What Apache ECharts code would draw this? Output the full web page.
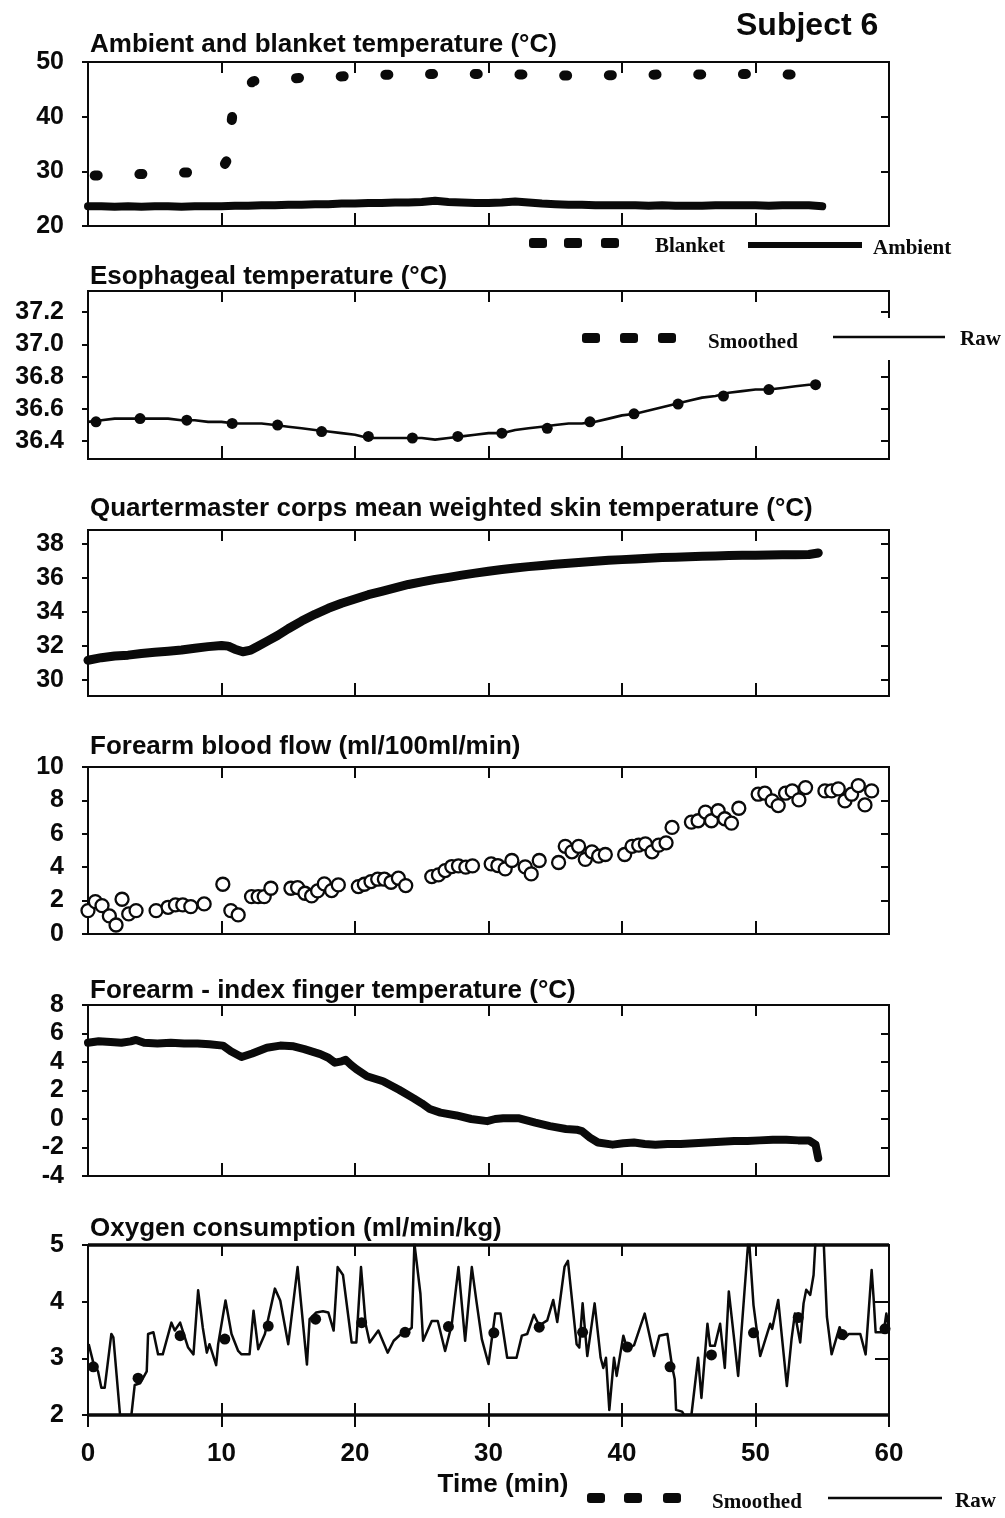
<!DOCTYPE html>
<html>
<head>
<meta charset="utf-8">
<script src="https://cdn.jsdelivr.net/npm/echarts@6/dist/echarts.min.js"></script>
<style>
  html, body { margin: 0; padding: 0; background: #fff; }
  #chart { width: 1005px; height: 1518px; }
</style>
</head>
<body>
<div id="chart"></div>
<script>
// ---- Time axis (minutes) ----
const minuteTicks = [10, 20, 30, 40, 50];
const minuteLabels = [0, 10, 20, 30, 40, 50, 60];

// ---- Panel 1: ambient and blanket temperature (°C) ----
const ambientTemp = [
  [0,23.6],[1,23.6],[2,23.5],[3,23.6],[4,23.5],[5,23.6],[6,23.6],[7,23.5],[8,23.6],[9,23.6],
  [10,23.6],[11,23.7],[12,23.7],[13,23.8],[14,23.8],[15,23.9],[16,23.9],[17,24.0],[18,24.0],[19,24.1],
  [20,24.1],[21,24.2],[22,24.2],[23,24.3],[24,24.3],[25,24.4],[26,24.6],[27,24.4],[28,24.3],[29,24.2],
  [30,24.2],[31,24.3],[32,24.5],[33,24.3],[34,24.1],[35,24.0],[36,23.9],[37,23.9],[38,23.8],[39,23.8],
  [40,23.8],[41,23.8],[42,23.7],[43,23.8],[44,23.7],[45,23.7],[46,23.7],[47,23.8],[48,23.8],[49,23.8],
  [50,23.8],[51,23.7],[52,23.8],[53,23.8],[54,23.8],[55,23.6]
];
const blanketTemp = [
  [0,29.2],[3.9,29.5],[7.5,29.8],[10,30.2],[10.4,32],[10.8,40],[11.5,45],[12.4,46.5],
  [15.9,47.1],[19.3,47.4],[22.7,47.7],[26.1,47.8],[29.5,47.8],[32.8,47.7],[36.2,47.5],
  [39.5,47.6],[42.9,47.7],[46.2,47.7],[49.5,47.8],[52.9,47.7],[55,47.7]
];
const panel1Ticks = [20, 30, 40, 50];

// ---- Panel 2: esophageal temperature (°C) ----
const esoRaw = [
  [0,36.52],[1,36.53],[2,36.54],[3,36.54],[4,36.54],[5,36.54],[6,36.54],[7,36.53],[8,36.53],[9,36.52],
  [10,36.52],[11,36.51],[12,36.51],[13,36.51],[14,36.50],[15,36.49],[16,36.48],[17,36.47],[18,36.46],[19,36.45],
  [20,36.44],[21,36.42],[22,36.42],[23,36.42],[24,36.42],[25,36.42],[26,36.41],[27,36.42],[28,36.43],[29,36.44],
  [30,36.45],[31,36.45],[32,36.47],[33,36.48],[34,36.49],[35,36.50],[36,36.51],[37,36.51],[38,36.52],[39,36.54],
  [40,36.56],[41,36.57],[42,36.59],[43,36.61],[44,36.63],[45,36.65],[46,36.67],[47,36.68],[48,36.70],[49,36.71],
  [50,36.72],[51,36.72],[52,36.73],[53,36.74],[54,36.75],[54.6,36.75]
];
const esoSmoothed = [
  [0.6,36.52],[3.9,36.54],[7.4,36.53],[10.8,36.51],[14.2,36.50],[17.5,36.46],[21.0,36.43],[24.3,36.42],
  [27.7,36.43],[31.0,36.45],[34.4,36.48],[37.6,36.52],[40.9,36.57],[44.2,36.63],[47.6,36.68],[51.0,36.72],[54.5,36.75]
];
const panel2Ticks = [36.4, 36.6, 36.8, 37.0, 37.2];

// ---- Panel 3: mean weighted skin temperature (°C) ----
const skinTemp = [
  [0,31.15],[1,31.3],[2,31.4],[3,31.45],[4,31.55],[5,31.62],[6,31.68],[7,31.75],[8,31.85],[9,31.95],
  [10,32.02],[10.5,31.98],[11,31.8],[11.6,31.65],[12.2,31.75],[12.8,32.0],[13.5,32.3],[14.2,32.6],[15,33.0],
  [16,33.45],[17,33.85],[18,34.2],[19,34.5],[20,34.75],[21,35.0],[22,35.2],[23,35.4],[24,35.6],[25,35.75],
  [26,35.9],[27,36.02],[28,36.15],[29,36.27],[30,36.38],[31,36.48],[32,36.57],[33,36.65],[34,36.72],[35,36.79],
  [36,36.85],[37,36.91],[38,36.96],[39,37.02],[40,37.06],[41,37.1],[42,37.14],[43,37.18],[44,37.2],[45,37.23],
  [46,37.26],[47,37.28],[48,37.3],[49,37.31],[50,37.32],[51,37.33],[52,37.34],[53,37.35],[54,37.36],[54.7,37.45]
];
const panel3Ticks = [30, 32, 34, 36, 38];

// ---- Panel 4: forearm blood flow (ml/100ml/min) ----
const bloodFlow = [
  [0,1.4],[0.55,1.94],[1.05,1.7],[1.6,1.08],[2.1,0.54],[2.55,2.08],[3.05,1.2],[3.6,1.4],
  [5.1,1.4],[6.0,1.6],[6.55,1.74],[7.1,1.74],[7.7,1.64],[8.7,1.8],
  [10.1,2.98],[10.7,1.4],[11.25,1.14],[12.25,2.24],[12.75,2.24],[13.2,2.24],[13.7,2.74],
  [15.2,2.74],[15.7,2.78],[16.25,2.44],[16.75,2.28],[17.2,2.58],[17.7,3.0],[18.25,2.6],[18.75,2.94],
  [20.25,2.84],[20.7,2.98],[21.2,3.14],[21.7,3.28],[22.2,3.28],[22.7,3.1],[23.25,3.34],[23.8,2.9],
  [25.75,3.44],[26.25,3.54],[26.75,3.8],[27.25,4.04],[27.75,4.08],[28.3,4.0],[28.8,4.08],
  [30.2,4.2],[30.7,4.1],[31.25,3.9],[31.75,4.4],[32.75,4.02],[33.2,3.6],[33.8,4.4],
  [35.25,4.28],[35.75,5.25],[36.25,4.92],[36.75,5.25],[37.25,4.47],[37.75,4.92],[38.25,4.66],[38.75,4.76],
  [40.2,4.76],[40.75,5.25],[41.25,5.32],[41.75,5.4],[42.25,4.92],[42.75,5.32],[43.3,5.46],[43.75,6.38],
  [45.2,6.7],[45.7,6.78],[46.25,7.3],[46.7,6.78],[47.2,7.38],[47.7,6.9],[48.2,6.64],[48.75,7.53],
  [50.2,8.37],[50.7,8.43],[51.25,7.97],[51.7,7.69],[52.25,8.43],[52.75,8.57],[53.25,8.03],[53.75,8.77],
  [55.2,8.57],[55.7,8.57],[56.2,8.69],[56.7,7.97],[57.2,8.37],[57.7,8.89],[58.2,7.73],[58.7,8.57]
];
const panel4Ticks = [0, 2, 4, 6, 8, 10];

// ---- Panel 5: forearm - index finger temperature (°C) ----
const fingerGradient = [
  [0,5.35],[0.8,5.45],[1.7,5.4],[2.5,5.35],[3.2,5.45],[3.6,5.55],[4.2,5.35],[5.2,5.3],[6.2,5.35],[7.2,5.3],
  [8.2,5.3],[9.1,5.25],[10.1,5.15],[10.7,4.75],[11.5,4.35],[12.3,4.6],[13.4,5.0],[14.4,5.15],[15.4,5.1],
  [16.2,4.9],[17.4,4.55],[18.0,4.3],[18.5,3.95],[19.0,4.05],[19.3,4.15],[19.7,3.8],[20.1,3.5],[20.9,3.0],
  [22.1,2.65],[23.3,2.05],[24.4,1.45],[25.0,1.1],[25.6,0.7],[26.4,0.45],[27.6,0.25],[28.7,0.0],[29.9,-0.15],
  [30.5,0.0],[31.1,0.05],[32.3,0.05],[33.5,-0.25],[34.6,-0.5],[35.8,-0.7],[36.6,-0.75],[37.0,-0.85],
  [37.6,-1.3],[38.2,-1.65],[39.3,-1.8],[40.1,-1.7],[40.9,-1.65],[41.7,-1.75],[42.5,-1.8],[43.4,-1.75],
  [44.4,-1.75],[45.4,-1.7],[46.4,-1.65],[47.4,-1.6],[48.4,-1.55],[49.4,-1.55],[50.3,-1.5],[51.3,-1.45],
  [52.3,-1.45],[53.2,-1.5],[54.0,-1.5],[54.5,-1.8],[54.7,-2.75]
];
const panel5Ticks = [-4, -2, 0, 2, 4, 6, 8];

// ---- Panel 6: oxygen consumption (ml/min/kg) ----
const oxygenRaw = [
  [0.05,3.25],[0.4,2.92],[0.75,2.77],[1.0,2.48],[1.25,2.48],[1.75,3.43],[1.9,3.37],[2.4,2.0],[3.25,2.0],
  [3.5,2.53],[3.9,2.56],[4.4,2.77],[4.5,3.43],[4.9,3.46],[5.25,3.07],[5.6,3.07],[6.25,3.63],[6.5,3.49],
  [6.9,3.63],[7.5,3.19],[7.9,3.07],[8.25,4.2],[8.6,3.54],[8.9,3.1],[9.1,3.25],[9.6,2.88],[9.75,3.25],
  [10.3,4.02],[10.75,3.43],[11.25,3.13],[11.5,3.07],[12.1,3.07],[12.4,3.84],[12.75,3.16],[13.25,3.43],
  [14.0,4.23],[14.4,4.02],[15.0,3.25],[15.7,4.61],[16.4,2.89],[16.6,3.69],[17.1,3.81],[17.6,3.83],
  [18.0,3.81],[18.4,3.49],[18.7,4.61],[19.1,4.47],[19.75,3.28],[20.1,3.28],[20.45,4.61],[20.8,3.6],
  [21.1,3.28],[21.75,3.49],[22.45,3.1],[22.9,3.31],[23.45,3.43],[24.0,3.49],[24.25,3.54],[24.45,5.03],
  [24.9,4.14],[25.1,3.31],[25.75,3.66],[26.2,3.66],[26.75,3.13],[27.25,3.6],[27.75,4.61],[28.25,3.31],
  [28.75,4.61],[29.1,4.0],[29.5,3.34],[30.0,2.9],[30.5,3.79],[30.9,3.79],[31.4,3.01],[32.1,3.01],
  [32.5,3.4],[32.9,3.43],[33.4,3.77],[33.8,3.58],[34.4,3.67],[34.85,4.03],[35.15,3.64],[35.7,4.62],
  [35.95,4.72],[36.6,3.25],[36.8,3.19],[37.05,3.97],[37.4,3.04],[37.95,3.97],[38.4,3.01],[38.6,2.83],
  [38.8,3.01],[39.05,2.09],[39.4,3.01],[39.6,2.69],[40.1,3.4],[40.4,3.16],[40.9,3.23],[41.7,3.79],
  [42.4,3.04],[42.8,3.4],[43.4,3.43],[43.75,2.86],[43.95,2.63],[44.05,2.09],[44.5,2.06],[44.65,2.0],
  [45.2,2.0],[45.7,3.01],[45.95,2.3],[46.4,3.61],[46.6,3.22],[46.95,3.22],[47.35,3.61],[47.7,2.83],
  [48.0,4.18],[48.4,3.34],[48.7,2.69],[49.4,4.89],[49.5,5.15],[49.85,3.94],[50.35,3.04],[51.1,3.61],
  [51.25,3.52],[51.7,4.03],[52.35,2.51],[52.7,3.34],[52.95,3.79],[53.35,3.28],[53.6,3.97],[53.8,4.21],
  [54.1,4.12],[54.35,4.47],[54.5,5.1],[55.1,5.1],[55.35,3.73],[55.7,3.07],[56.3,3.55],[56.6,3.34],
  [57.0,3.43],[57.85,3.43],[58.25,3.07],[58.7,4.56],[58.85,4.05],[59.0,3.46],[59.6,3.46],[59.8,3.79],[60,3.52]
];
const oxygenSmoothed = [
  [0.4,2.85],[3.75,2.65],[6.9,3.4],[10.25,3.34],[13.5,3.57],[17.05,3.69],[20.5,3.63],[23.75,3.46],
  [27.0,3.56],[30.4,3.45],[33.8,3.55],[37.05,3.46],[40.4,3.2],[43.6,2.85],[46.7,3.06],[49.85,3.45],
  [53.2,3.72],[56.5,3.42],[59.7,3.52]
];
const panel6Ticks = [2, 3, 4, 5];
const panel6Frame = [2, 5];

// ---- Text ----
const subjectTitle = 'Subject 6';
const panelTitles = [
  'Ambient and blanket temperature (°C)',
  'Esophageal temperature (°C)',
  'Quartermaster corps mean weighted skin temperature (°C)',
  'Forearm blood flow (ml/100ml/min)',
  'Forearm - index finger temperature (°C)',
  'Oxygen consumption (ml/min/kg)'
];
const timeAxisName = 'Time (min)';

// ---- Layout ----
const SANS = "'Liberation Sans', Arial, Helvetica, sans-serif";
const SERIF = "'Liberation Serif', 'Times New Roman', serif";
const INK = '#0a0a0a';
const PLOT_LEFT = 88, PLOT_WIDTH = 801;
const panels = [
  { top: 62,   height: 164, min: 20,    max: 50,    ticks: panel1Ticks, right: [30, 40],                     fmt: v => String(v) },
  { top: 291,  height: 168, min: 36.29, max: 37.33, ticks: panel2Ticks, right: [36.4, 36.6, 36.8, 37.0, 37.2], fmt: v => v.toFixed(1) },
  { top: 530,  height: 166, min: 29.05, max: 38.8,  ticks: panel3Ticks, right: [30, 32, 34, 36, 38],         fmt: v => String(v) },
  { top: 767,  height: 167, min: 0,     max: 10,    ticks: panel4Ticks, right: [2, 4, 6, 8],                 fmt: v => String(v) },
  { top: 1005, height: 171, min: -4,    max: 8,     ticks: panel5Ticks, right: [-2, 0, 2, 4, 6],             fmt: v => String(v) },
  { top: 1245, height: 170, min: 2,     max: 5,     ticks: panel6Ticks, right: [3, 4],                       fmt: v => String(v) }
];
const titleY = [45, 277, 509, 747, 991, 1229];

const grids = [], xAxes = [], yAxes = [];
panels.forEach((p, i) => {
  grids.push({ left: PLOT_LEFT, top: p.top, width: PLOT_WIDTH, height: p.height,
    show: true, borderColor: INK, borderWidth: 2, backgroundColor: 'transparent' });
  const last = i === panels.length - 1;
  const tickStyle = { color: INK, width: 2 };
  // bottom time axis
  xAxes.push({
    type: 'value', gridIndex: i, position: 'bottom', min: 0, max: 60,
    offset: last ? -12 : 0,
    axisLine: { show: false, onZero: false }, splitLine: { show: false },
    axisTick: last
      ? { show: true, inside: false, length: 24, customValues: minuteLabels, lineStyle: tickStyle }
      : { show: true, inside: true, length: 13, customValues: minuteTicks, lineStyle: tickStyle },
    axisLabel: last
      ? { show: true, customValues: minuteLabels, margin: 38, fontSize: 26, fontWeight: 'bold', fontFamily: SANS, color: INK }
      : { show: false }
  });
  // top time axis
  xAxes.push({
    type: 'value', gridIndex: i, position: 'top', min: 0, max: 60,
    axisLine: { show: false, onZero: false }, splitLine: { show: false },
    axisTick: { show: true, inside: true, length: 11, customValues: minuteTicks, lineStyle: tickStyle },
    axisLabel: { show: false }
  });
  // left value axis
  yAxes.push({
    type: 'value', gridIndex: i, position: 'left', min: p.min, max: p.max,
    axisLine: { show: false, onZero: false }, splitLine: { show: false },
    axisTick: { show: true, inside: false, length: 6, customValues: p.ticks, lineStyle: tickStyle },
    axisLabel: { show: true, customValues: p.ticks, formatter: p.fmt, margin: 24,
      fontSize: 25, fontWeight: 'bold', fontFamily: SANS, color: INK }
  });
  // right value axis
  yAxes.push({
    type: 'value', gridIndex: i, position: 'right', min: p.min, max: p.max,
    axisLine: { show: false, onZero: false }, splitLine: { show: false },
    axisTick: { show: true, inside: true, length: last ? 14 : 8, customValues: p.right, lineStyle: tickStyle },
    axisLabel: { show: false }
  });
});

const ax = i => ({ xAxisIndex: 2 * i, yAxisIndex: 2 * i });
const series = [
  Object.assign({ type: 'line', name: 'Ambient', data: ambientTemp, showSymbol: false, silent: true,
    lineStyle: { color: INK, width: 8, cap: 'round', join: 'round' } }, ax(0)),
  Object.assign({ type: 'line', name: 'Blanket', data: blanketTemp, showSymbol: false, silent: true,
    lineStyle: { color: INK, width: 10, type: [3, 41.7], dashOffset: 38, cap: 'round', join: 'round' } }, ax(0)),
  Object.assign({ type: 'line', name: 'Raw', data: esoRaw, showSymbol: false, silent: true,
    lineStyle: { color: INK, width: 2.6 } }, ax(1)),
  Object.assign({ type: 'scatter', name: 'Smoothed', data: esoSmoothed, symbol: 'circle', symbolSize: 11, silent: true,
    itemStyle: { color: INK, opacity: 1 } }, ax(1)),
  Object.assign({ type: 'line', name: 'Skin', data: skinTemp, showSymbol: false, silent: true,
    lineStyle: { color: INK, width: 9, cap: 'round', join: 'round' } }, ax(2)),
  Object.assign({ type: 'scatter', name: 'Flow', data: bloodFlow, symbol: 'circle', symbolSize: 13, silent: true,
    itemStyle: { color: '#fff', borderColor: INK, borderWidth: 2.3, opacity: 1 } }, ax(3)),
  Object.assign({ type: 'line', name: 'Finger', data: fingerGradient, showSymbol: false, silent: true,
    lineStyle: { color: INK, width: 8, cap: 'round', join: 'round' } }, ax(4)),
  Object.assign({ type: 'line', name: 'Raw', data: oxygenRaw, showSymbol: false, silent: true,
    lineStyle: { color: INK, width: 2.5, join: 'round' },
    markLine: { silent: true, symbol: 'none', label: { show: false },
      lineStyle: { color: INK, width: 3.5, type: 'solid' },
      data: panel6Frame.map(v => ({ yAxis: v })) } }, ax(5)),
  Object.assign({ type: 'scatter', name: 'Smoothed', data: oxygenSmoothed, symbol: 'circle', symbolSize: 11, silent: true,
    itemStyle: { color: INK, opacity: 1 } }, ax(5))
];

// titles and legend keys
const graphic = [];
graphic.push({ type: 'text', left: 736, top: 10, z: 100,
  style: { text: subjectTitle, font: `bold 32px ${SANS}`, fill: INK } });
panelTitles.forEach((t, i) => {
  graphic.push({ type: 'text', x: 90, y: titleY[i], z: 100,
    style: { text: t, font: `bold 26px ${SANS}`, fill: INK, textVerticalAlign: 'middle' } });
});
graphic.push({ type: 'text', x: 503, y: 1485, z: 100,
  style: { text: timeAxisName, font: `bold 26px ${SANS}`, fill: INK, textAlign: 'center', textVerticalAlign: 'middle' } });

function dashKey(xs, y) {
  xs.forEach(x => graphic.push({ type: 'rect', z: 100,
    shape: { x: x - 9, y: y - 5, width: 18, height: 10, r: 3 }, style: { fill: INK } }));
}
function lineKey(x1, x2, y, w) {
  graphic.push({ type: 'line', z: 100, shape: { x1, y1: y, x2, y2: y },
    style: { stroke: INK, lineWidth: w } });
}
function keyText(text, x, y) {
  graphic.push({ type: 'text', x, y, z: 100,
    style: { text, font: `bold 21px ${SERIF}`, fill: INK, textVerticalAlign: 'middle' } });
}
// panel 1 key
dashKey([538, 573, 610], 243);
keyText('Blanket', 655, 247);
lineKey(748, 862, 245, 6);
keyText('Ambient', 873, 249);
// panel 2 key (the frame is left open behind it)
graphic.push({ type: 'rect', z: 99, shape: { x: 877, y: 318, width: 18, height: 42 }, style: { fill: '#fff' } });
dashKey([591, 629, 667], 338);
keyText('Smoothed', 708, 343);
lineKey(833, 945, 337, 2.5);
keyText('Raw', 960, 340);
// panel 6 key
dashKey([596, 633, 672], 1498);
keyText('Smoothed', 712, 1503);
lineKey(828, 942, 1498, 2.5);
keyText('Raw', 955, 1502);

const chart = echarts.init(document.getElementById('chart'), null, { renderer: 'canvas' });
chart.setOption({
  animation: false,
  backgroundColor: '#fff',
  grid: grids,
  xAxis: xAxes,
  yAxis: yAxes,
  series: series,
  graphic: graphic
});
</script>
</body>
</html>
